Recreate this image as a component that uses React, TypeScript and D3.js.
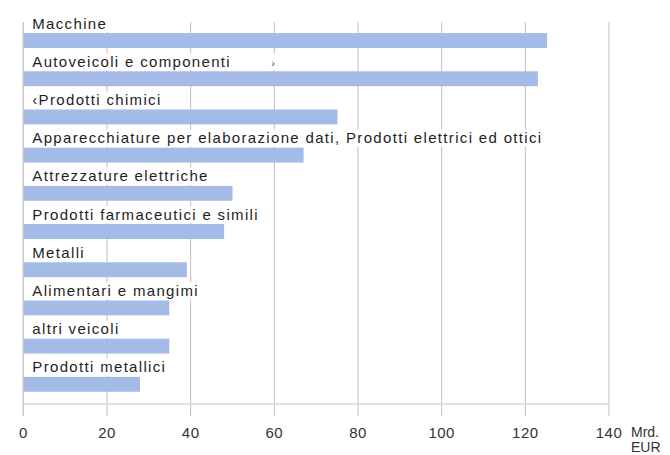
import React, { useEffect, useRef } from "react";
import * as d3 from "d3";

const categories = [
  "Macchine",
  "Autoveicoli e componenti",
  "\u2039Prodotti chimici",
  "Apparecchiature per elaborazione dati, Prodotti elettrici ed ottici",
  "Attrezzature elettriche",
  "Prodotti farmaceutici e simili",
  "Metalli",
  "Alimentari e mangimi",
  "altri veicoli",
  "Prodotti metallici",
];
const values = [125.2, 123.0, 75.1, 67.0, 50.0, 48.0, 39.1, 34.9, 34.9, 27.9];
const xTicks = [0, 20, 40, 60, 80, 100, 120, 140];
const unitLines = ["Mrd.", "EUR"];

const W = 670;
const H = 455;
const FONT = "'Liberation Sans', Arial, sans-serif";

export default function App() {
  const ref = useRef<SVGSVGElement | null>(null);

  useEffect(() => {
    const svg = d3.select(ref.current);
    svg.selectAll("*").remove();

    const x = d3.scaleLinear().domain([0, 140]).range([23.3, 609]);
    const y = d3.scaleBand<string>().domain(categories).range([22, 404]).padding(0);
    const bw = y.bandwidth();
    const baseY = 404;
    const tickBottom = 416;

    // gridlines
    svg
      .append("g")
      .selectAll("line")
      .data(xTicks)
      .join("line")
      .attr("x1", (d) => x(d))
      .attr("x2", (d) => x(d))
      .attr("y1", 22)
      .attr("y2", tickBottom)
      .attr("stroke", "#bfbfbf")
      .attr("stroke-width", 1);

    // baseline
    svg
      .append("line")
      .attr("x1", x(0))
      .attr("x2", x(140))
      .attr("y1", baseY)
      .attr("y2", baseY)
      .attr("stroke", "#d6d6d6")
      .attr("stroke-width", 1.5);

    // labels with white background
    const lg = svg.append("g");
    categories.forEach((c) => {
      const g = lg.append("g");
      const rect = g.append("rect").attr("fill", "#fff");
      const t = g
        .append("text")
        .attr("x", x(0) + 9)
        .attr("y", (y(c) as number) + 6.5)
        .attr("font-family", FONT)
        .attr("font-size", 15)
        .attr("letter-spacing", 1.33)
        .attr("fill", "#1e1e1e")
        .text(c);
      const len = (t.node() as SVGTextElement).getComputedTextLength();
      rect
        .attr("x", x(0) + 4)
        .attr("y", (y(c) as number) - 7)
        .attr("width", len + 9)
        .attr("height", 17);
      if (c === "Autoveicoli e componenti") {
        rect.attr("width", x(60) - x(0) + 4);
        g.append("text")
          .attr("x", x(60) - 3)
          .attr("y", (y(c) as number) + 6.5)
          .attr("font-family", FONT)
          .attr("font-size", 11)
          .attr("fill", "#444")
          .text("\u203A");
      }
    });

    // bars
    svg
      .append("g")
      .selectAll("rect")
      .data(categories)
      .join("rect")
      .attr("x", x(0))
      .attr("y", (c) => (y(c) as number) + bw * 0.29)
      .attr("width", (c, i) => x(values[i]) - x(0))
      .attr("height", bw * 0.39)
      .attr("fill", "#a4bbe8");

    // left axis line
    svg
      .append("line")
      .attr("x1", x(0))
      .attr("x2", x(0))
      .attr("y1", 22)
      .attr("y2", tickBottom)
      .attr("stroke", "#c4c4c4");

    // tick labels
    svg
      .append("g")
      .selectAll("text")
      .data(xTicks)
      .join("text")
      .attr("x", (d) => x(d))
      .attr("y", 438)
      .attr("text-anchor", "middle")
      .attr("font-family", FONT)
      .attr("font-size", 15)
      .attr("letter-spacing", 0.5)
      .attr("fill", "#333")
      .text((d) => String(d));

    // unit
    svg
      .append("g")
      .selectAll("text")
      .data(unitLines)
      .join("text")
      .attr("x", 631)
      .attr("y", (d, i) => 437 + i * 15)
      .attr("font-family", FONT)
      .attr("font-size", 14)
      .attr("fill", "#333")
      .text((d) => d);
  }, []);

  return (
    <svg
      ref={ref}
      width={W}
      height={H}
      style={{ position: "absolute", left: 0, top: 0, background: "#fff" }}
    />
  );
}
